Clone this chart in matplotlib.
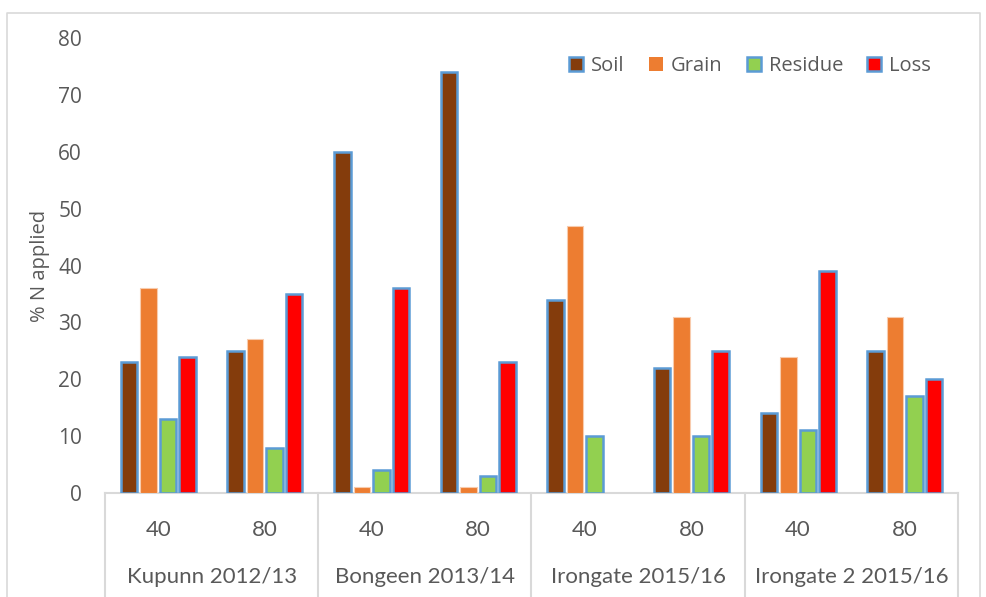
import matplotlib
matplotlib.use("Agg")
import matplotlib.pyplot as plt
from matplotlib.patches import Patch
from matplotlib.lines import Line2D
import numpy as np

sites = ["Kupunn 2012/13", "Bongeen 2013/14", "Irongate 2015/16", "Irongate 2 2015/16"]
rates = ["40", "80"]
series = ["Soil", "Grain", "Residue", "Loss"]
soil = [23, 25, 60, 74, 34, 22, 14, 25]
grain = [36, 27, 1, 1, 47, 31, 24, 31]
residue = [13, 8, 4, 3, 10, 10, 11, 17]
loss = [24, 35, 36, 23, 0, 25, 39, 20]

colors = ["#843C0C", "#ED7D31", "#92D050", "#FF0000"]
edges = ["#5B9BD5", "#F8CBAD", "#5B9BD5", "#5B9BD5"]
txt = "#595959"

W, H = 987, 597
fig = plt.figure(figsize=(W / 100, H / 100), dpi=100)
ax = fig.add_axes([105 / W, (H - 493) / H, (958 - 105) / W, (493 - 38) / H])

n = len(soil)
x = np.arange(n) + 0.5
bw = 0.155
step = 0.183
data = [soil, grain, residue, loss]
for i, (vals, c, e) in enumerate(zip(data, colors, edges)):
    offs = (i - 1.5) * step
    lw = 1.8 if e == "#5B9BD5" else 0.8
    bars = ax.bar(x + offs, vals, width=bw, color=c, edgecolor=e, linewidth=lw, zorder=3)
    for b, v in zip(bars, vals):
        if v == 0:
            b.set_visible(False)

ax.set_xlim(0, n)
ax.set_ylim(0, 80)
ax.set_yticks(range(0, 81, 10))
ax.tick_params(axis="y", length=0, pad=16.5, labelsize=15, labelcolor=txt)
for t in ax.get_yticklabels():
    t.set_fontfamily("Open Sans")
ax.set_xticks([])
for s in ["top", "right", "left"]:
    ax.spines[s].set_visible(False)
ax.spines["bottom"].set_color("#D9D9D9")
ax.spines["bottom"].set_linewidth(1.5)
ax.set_ylabel("% N applied", fontsize=14.5, color=txt, family="Open Sans", labelpad=6)

# category labels
tr = ax.get_xaxis_transform()
px = 1 / 455
for i in range(n):
    ax.text(x[i], -37 * px, rates[i % 2], transform=tr, ha="center", va="center",
            fontsize=16, color=txt, family="Lato")
for g, name in enumerate(sites):
    ax.text(2 * g + 1, -84 * px, name, transform=tr, ha="center", va="center",
            fontsize=16, color=txt, family="Lato")
for g in range(len(sites) + 1):
    ax.add_line(Line2D([2 * g, 2 * g], [0, -110 * px], transform=tr, color="#D9D9D9",
                       linewidth=1.5, clip_on=False))

# legend
handles = [Patch(facecolor=c, edgecolor=e, linewidth=1.8 if e == "#5B9BD5" else 0)
           for c, e in zip(colors, edges)]
leg = ax.legend(handles, series, loc="upper right", bbox_to_anchor=(0.99, 1.0), ncol=4,
                frameon=False, handlelength=0.7, handleheight=0.7,
                handletextpad=0.4, columnspacing=1.2, prop={"family": "Open Sans", "size": 14.5})
for t in leg.get_texts():
    t.set_color(txt)

# outer border
fig.add_artist(Line2D([7 / W, 7 / W, 980 / W, 980 / W], [0, 1 - 13 / H, 1 - 13 / H, 0],
                      transform=fig.transFigure, color="#D9D9D9", linewidth=1.2))

fig.savefig("out.png", dpi=100)
